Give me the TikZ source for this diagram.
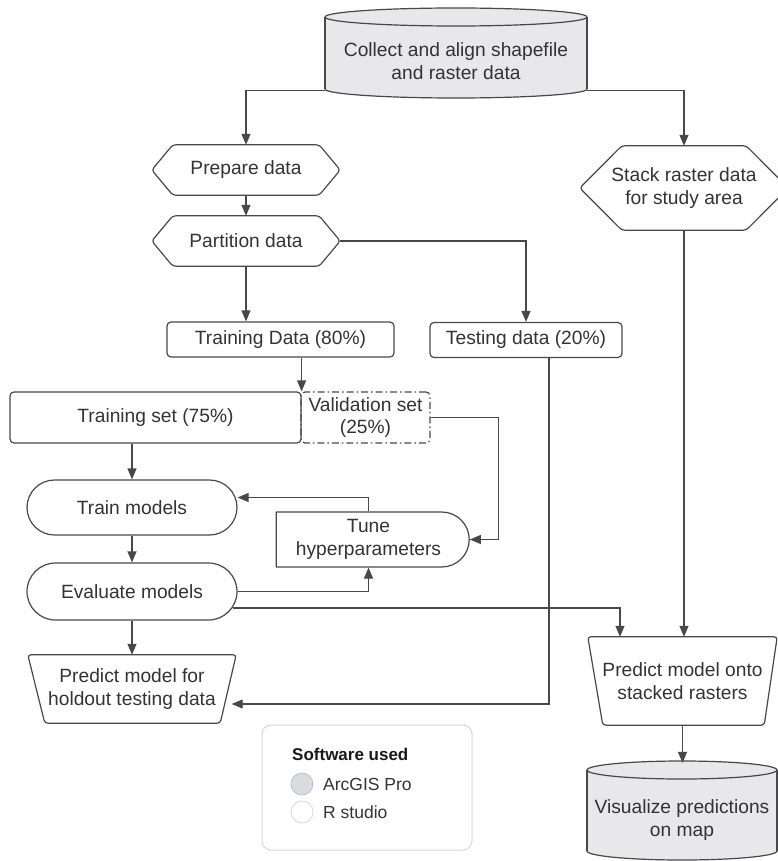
\documentclass[tikz,border=0pt]{standalone}
\usepackage{fontspec}
\setmainfont{Liberation Sans}
\usetikzlibrary{arrows.meta,shapes.misc,calc}
\definecolor{txt}{HTML}{333333}
\definecolor{ln}{HTML}{484848}
\definecolor{cylfill}{HTML}{E8E8EA}
\definecolor{legfill}{HTML}{D9DBE1}
\definecolor{legcirc}{HTML}{BFC1C8}
\definecolor{legline}{HTML}{D6D6D6}
\begin{document}
\begin{tikzpicture}[x=1pt,y=-1pt,
  every node/.style={font=\fontsize{19.2}{22.5}\selectfont, text=txt, align=center, inner sep=0pt},
  shp/.style={draw=ln, line width=1.2pt, line join=round},
  plain/.style={draw=none},
  box/.style={shp, rounded corners=4pt},
  dashbox/.style={draw=ln, line width=1.2pt, rounded corners=4pt, dash pattern=on 7pt off 3pt on 1.5pt off 3pt},
  stadium/.style={shp, rounded rectangle},
  delay/.style={shp, rounded rectangle, rounded rectangle west arc=none},
  conn/.style={draw=ln, line width=1.2pt, -{Triangle[length=11pt,width=9pt]}},
  legtxt/.style={anchor=base west, font=\fontsize{17.5}{20}\selectfont},
]
\useasboundingbox (0,0) rectangle (778,861);

% ---- top cylinder
\filldraw[fill=cylfill, shp] (456,89) ellipse [x radius=131, y radius=9];
\fill[cylfill] (325,17) rectangle (587,89);
\draw[shp] (325,17) -- (325,89) (587,17) -- (587,89);
\filldraw[fill=cylfill, shp] (456,17) ellipse [x radius=131, y radius=9];
\node[plain, minimum width=262, minimum height=76] (collect) at (456,61) {Collect and align shapefile\\and raster data};

% ---- bottom cylinder
\filldraw[fill=cylfill, shp] (682,851) ellipse [x radius=95, y radius=9];
\fill[cylfill] (587,770) rectangle (777,851);
\draw[shp] (587,770) -- (587,851) (777,770) -- (777,851);
\filldraw[fill=cylfill, shp] (682,770) ellipse [x radius=95, y radius=9];
\node[plain, minimum width=190, minimum height=90] (viz) at (682,820) {Visualize predictions\\on map};

% ---- hexagons
\node[plain, minimum width=188, minimum height=50] (prep) at (246,170) {Prepare data};
\draw[shp, rounded corners=3pt] (prep.west) -- ([xshift=21pt]prep.north west) -- ([xshift=-21pt]prep.north east) -- (prep.east) -- ([xshift=-21pt]prep.south east) -- ([xshift=21pt]prep.south west) -- cycle;
\node[plain, minimum width=188, minimum height=50] (part) at (246,241) {Partition data};
\draw[shp, rounded corners=3pt] (part.west) -- ([xshift=21pt]part.north west) -- ([xshift=-21pt]part.north east) -- (part.east) -- ([xshift=-21pt]part.south east) -- ([xshift=21pt]part.south west) -- cycle;
\node[plain, minimum width=208, minimum height=84] (stack) at (684,188) {Stack raster data\\for study area};
\draw[shp, rounded corners=3pt] (stack.west) -- ([xshift=42pt]stack.north west) -- ([xshift=-42pt]stack.north east) -- (stack.east) -- ([xshift=-42pt]stack.south east) -- ([xshift=42pt]stack.south west) -- cycle;

% ---- boxes
\node[box, minimum width=227, minimum height=35] (tdata) at (280.5,339.5) {Training Data (80\%)};
\node[box, minimum width=192, minimum height=35] (testd) at (526,340) {Testing data (20\%)};
\node[box, minimum width=291, minimum height=51] (tset) at (155.5,417.5) {Training set (75\%)};
\node[dashbox, minimum width=129, minimum height=51] (vset) at (365.5,417.5) {Validation set\\(25\%)};

\node[stadium, minimum width=210, minimum height=55] (train) at (132,507.5) {Train models};
\node[stadium, minimum width=210, minimum height=57] (eval) at (132,591.5) {Evaluate models};
\node[delay, minimum width=193, minimum height=55] (tune) at (368.5,539.5) {Tune\\hyperparameters};

% ---- trapezoids
\node[plain, minimum width=208, minimum height=68] (phold) at (132,689) {Predict model for\\holdout testing data};
\draw[shp, rounded corners=3pt] (phold.north west) -- (phold.north east) -- ([xshift=-16pt]phold.south east) -- ([xshift=17pt]phold.south west) -- cycle;
\node[plain, minimum width=189, minimum height=88] (ponto) at (682.5,681) {Predict model onto\\stacked rasters};
\draw[shp, rounded corners=3pt] (ponto.north west) -- (ponto.north east) -- ([xshift=-13pt]ponto.south east) -- ([xshift=15pt]ponto.south west) -- cycle;

% ---- connectors
\draw[conn] ([yshift=9pt]collect.south west) -| (prep.north);
\draw[conn] ([yshift=9pt]collect.south east) -| (stack.north);
\draw[conn] (prep.south) -- (part.north);
\draw[conn] (part.south) -- (part.south |- tdata.north);
\draw[conn] (part.east) -| (testd.north);
\draw[conn] (tset.north east |- tdata.south) -- (tset.north east);
\draw[conn] (vset.east) -- ++(68,0) |- (tune.east);
\draw[conn] (train.north |- tset.south) -- (train.north);
\draw[conn] (train.south) -- (eval.north);
\draw[conn] (tune.north) |- ([yshift=10pt]train.east);
\draw[conn] (eval.east) -| (tune.south);
\draw[conn] ([xshift=-5pt,yshift=-16.5pt]eval.east) -| ([xshift=-62.5pt]ponto.north);
\draw[conn] (eval.south) -- (phold.north);
\draw[conn] ([xshift=23pt]testd.south) |- ([xshift=-4.5pt,yshift=-15pt]phold.east);
\draw[conn] (stack.south) -- (stack.south |- ponto.north);
\draw[conn] (ponto.south) -- ([yshift=12pt]ponto.south |- viz.north);

% ---- legend
\node[draw=legline, line width=1pt, rounded corners=9pt, minimum width=210, minimum height=125] (legend) at (367,787.5) {};
\node[legtxt, font=\fontsize{17}{20}\selectfont\bfseries, text=black!90] (legtitle) at (292,760) {Software used};
\node[circle, draw=legcirc, fill=legfill, line width=0.8pt, minimum size=22] (c1) at (302,784) {};
\node[circle, draw=legline, fill=white, line width=0.8pt, minimum size=22] (c2) at (302,812) {};
\node[legtxt] (l1) at (323,790) {ArcGIS Pro};
\node[legtxt] (l2) at (323,818) {R studio};
\end{tikzpicture}
\end{document}
